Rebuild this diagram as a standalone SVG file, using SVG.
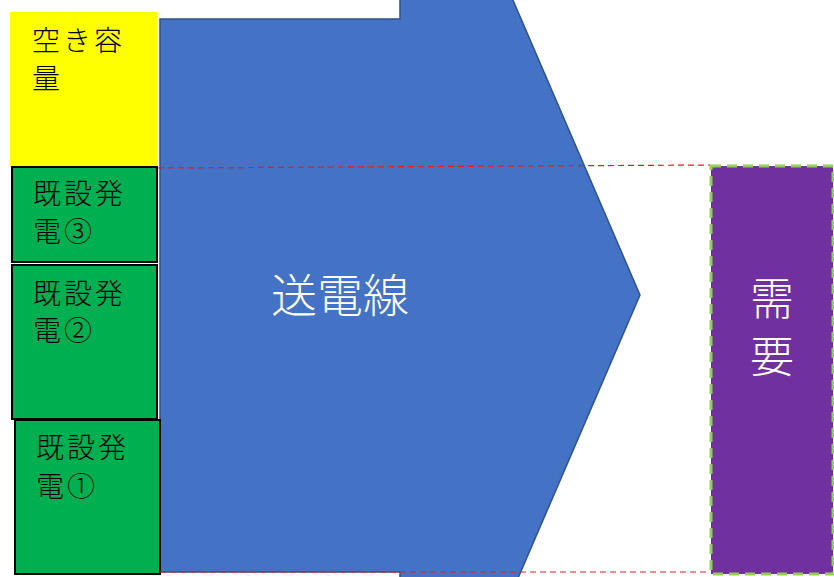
<svg xmlns="http://www.w3.org/2000/svg" width="834" height="577" viewBox="0 0 834 577">
<style>
.t{font-family:"Noto Sans CJK JP","Noto Sans",sans-serif;font-weight:300;}
.blk{fill:#000;font-size:28px;letter-spacing:3px;}
.wht{fill:#fff;}
.gen{fill:#00B050;stroke:#000;stroke-width:2;}
.red{stroke:#E02020;stroke-width:1.2;stroke-dasharray:6 4;fill:none;}
</style>
<rect width="834" height="577" fill="#fff"/>
<g id="line">
<path d="M160,19 L400,19 L400,-262 L640,295 L400,852 L400,572 L160,572 Z" fill="#4472C4" stroke="#2F528F" stroke-width="1.5"/>
<text class="t wht" x="340" y="312" font-size="46" text-anchor="middle">送電線</text>
</g>
<g id="capacity">
<rect x="10" y="12" width="147" height="155" fill="#FFFF00"/>
<text class="t blk" x="32" y="51">空き容</text>
<text class="t blk" x="32" y="89">量</text>
</g>
<g id="gen3">
<rect class="gen" x="12" y="167" width="145" height="95"/>
<text class="t blk" x="33" y="204">既設発</text>
<text class="t blk" x="33" y="242">電③</text>
</g>
<g id="gen2">
<rect class="gen" x="12" y="265" width="145" height="154"/>
<text class="t blk" x="33" y="304">既設発</text>
<text class="t blk" x="33" y="341">電②</text>
</g>
<g id="gen1">
<rect class="gen" x="15" y="420" width="145" height="154"/>
<text class="t blk" x="36" y="458">既設発</text>
<text class="t blk" x="36" y="497">電①</text>
</g>
<g id="demand">
<rect x="711" y="166" width="122" height="408" fill="#7030A0" stroke="#92D050" stroke-width="3" stroke-dasharray="10 6"/>
<text class="t wht" x="772" y="315" font-size="44" text-anchor="middle">需</text>
<text class="t wht" x="772" y="373" font-size="44" text-anchor="middle">要</text>
</g>
<g id="connectors">
<line class="red" x1="158" y1="168" x2="710" y2="165"/>
<line class="red" x1="160" y1="572" x2="710" y2="572"/>
</g>
</svg>
